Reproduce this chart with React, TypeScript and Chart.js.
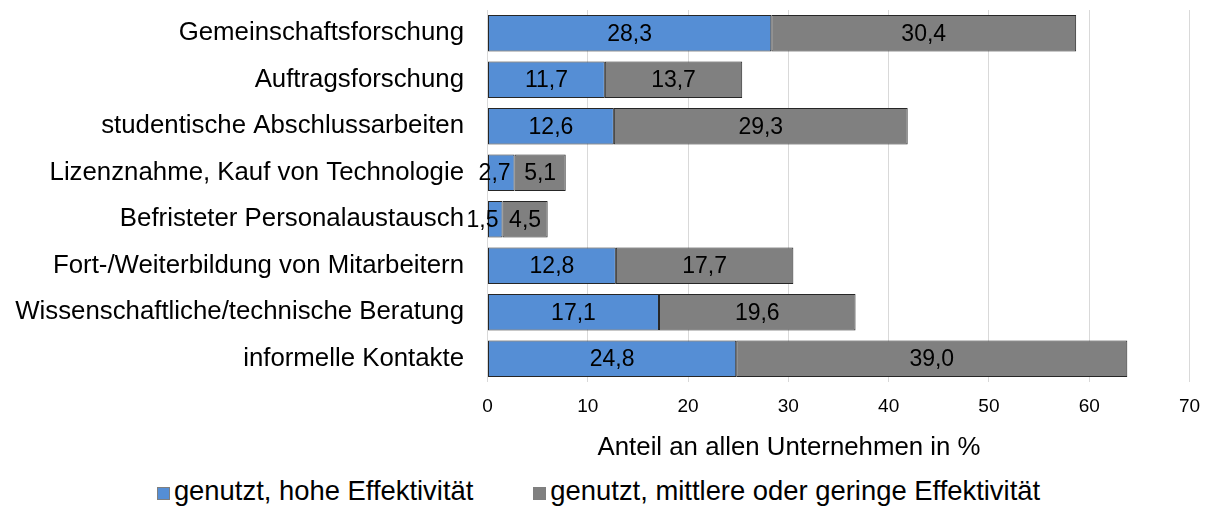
import React, { useEffect, useRef } from "react";
import { Chart, registerables } from "chart.js";

Chart.register(...registerables);

const categories = [
  "Gemeinschaftsforschung",
  "Auftragsforschung",
  "studentische Abschlussarbeiten",
  "Lizenznahme, Kauf von Technologie",
  "Befristeter Personalaustausch",
  "Fort-/Weiterbildung von Mitarbeitern",
  "Wissenschaftliche/technische Beratung",
  "informelle Kontakte",
];
const highValues = [28.3, 11.7, 12.6, 2.7, 1.5, 12.8, 17.1, 24.8];
const midLowValues = [30.4, 13.7, 29.3, 5.1, 4.5, 17.7, 19.6, 39.0];
const seriesNames = ["genutzt, hohe Effektivität", "genutzt, mittlere oder geringe Effektivität"];
const seriesColors = ["#558ED5", "#808080"];
const xTitle = "Anteil an allen Unternehmen in %";

const FONT = "'Liberation Sans', Arial, sans-serif";

const valueLabels = {
  id: "valueLabels",
  afterDatasetsDraw(chart: any) {
    const ctx = chart.ctx;
    ctx.save();
    ctx.font = `23px ${FONT}`;
    ctx.fillStyle = "#000";
    ctx.textBaseline = "middle";
    chart.data.datasets.forEach((ds: any, di: number) => {
      const meta = chart.getDatasetMeta(di);
      meta.data.forEach((el: any, i: number) => {
        const { x, base, y } = el.getProps(["x", "base", "y"], true);
        const v = ds.data[i] as number;
        const txt = v.toFixed(1).replace(".", ",");
        const w = ctx.measureText(txt).width;
        const barW = Math.abs(x - base);
        if (w > barW) {
          ctx.textAlign = "right";
          ctx.fillText(txt, Math.max(x, base) - 4, y + 1);
        } else {
          ctx.textAlign = "center";
          ctx.fillText(txt, (x + base) / 2, y + 1);
        }
      });
    });
    ctx.restore();
  },
};

// x-axis title, placed left of the plot centre as in the original
const axisTitle = {
  id: "axisTitle",
  afterDraw(chart: any) {
    const s = chart.scales.x;
    const ctx = chart.ctx;
    ctx.save();
    ctx.font = `25.8px ${FONT}`;
    ctx.fillStyle = "#000";
    ctx.textAlign = "center";
    ctx.textBaseline = "middle";
    ctx.fillText(xTitle, s.left + (s.right - s.left) * 0.4295, s.bottom - 15.5);
    ctx.restore();
  },
};

export default function App() {
  const ref = useRef<HTMLCanvasElement>(null);
  useEffect(() => {
    document.documentElement.style.overflow = "hidden";
    document.body.style.overflow = "hidden";
    const chart = new Chart(ref.current!, {
      type: "bar",
      data: {
        labels: categories,
        datasets: [
          {
            label: seriesNames[0],
            data: highValues,
            backgroundColor: seriesColors[0],
            borderColor: "#262626",
            borderWidth: 1,
            borderSkipped: false,
          },
          {
            label: seriesNames[1],
            data: midLowValues,
            backgroundColor: seriesColors[1],
            borderColor: "#262626",
            borderWidth: 1,
            borderSkipped: false,
          },
        ],
      },
      options: {
        indexAxis: "y",
        animation: false,
        responsive: true,
        maintainAspectRatio: false,
        layout: { padding: { top: 2, right: 10.5, bottom: 0, left: 0 } },
        datasets: { bar: { barPercentage: 0.785, categoryPercentage: 1 } },
        plugins: { legend: { display: false }, tooltip: { enabled: false } },
        scales: {
          x: {
            stacked: true,
            min: 0,
            max: 70,
            ticks: { stepSize: 10, color: "#000", font: { family: FONT, size: 19 }, padding: 13 },
            grid: { color: "#d9d9d9", drawTicks: false },
            border: { display: false },
            title: { display: false, text: xTitle },
            afterFit: (s: any) => {
              s.height = 81;
              s.paddingLeft = 0;
              s.paddingRight = 0;
            },
          },
          y: {
            stacked: true,
            ticks: { color: "#000", font: { family: FONT, size: 25.8 }, padding: 23.5 },
            grid: { display: false, drawTicks: false },
            border: { display: false },
            afterFit: (s: any) => {
              s.width = 479.5;
              s.paddingTop = 0;
              s.paddingBottom = 0;
            },
          },
        },
      },
      plugins: [valueLabels, axisTitle],
    });
    return () => chart.destroy();
  }, []);

  const legendItem = (i: number) => (
    <div key={i} style={{ whiteSpace: "nowrap" }}>
      <span
        style={{
          display: "inline-block",
          width: 11,
          height: 11,
          background: seriesColors[i],
          border: "1px solid #7f7f7f",
          marginRight: 4,
          verticalAlign: "baseline",
        }}
      />
      <span>{seriesNames[i]}</span>
    </div>
  );

  return (
    <div style={{ width: 1192, height: 498, overflow: "hidden", fontFamily: FONT }}>
      <div style={{ position: "relative", width: 1192, height: 455 }}>
        <canvas ref={ref} />
      </div>
      <div
        style={{
          paddingTop: 12.7,
          lineHeight: "30px",
          fontSize: 27.4,
          color: "#000",
          display: "flex",
          justifyContent: "center",
          gap: 60,
          paddingRight: 11,
        }}
      >
        {legendItem(0)}
        {legendItem(1)}
      </div>
    </div>
  );
}
